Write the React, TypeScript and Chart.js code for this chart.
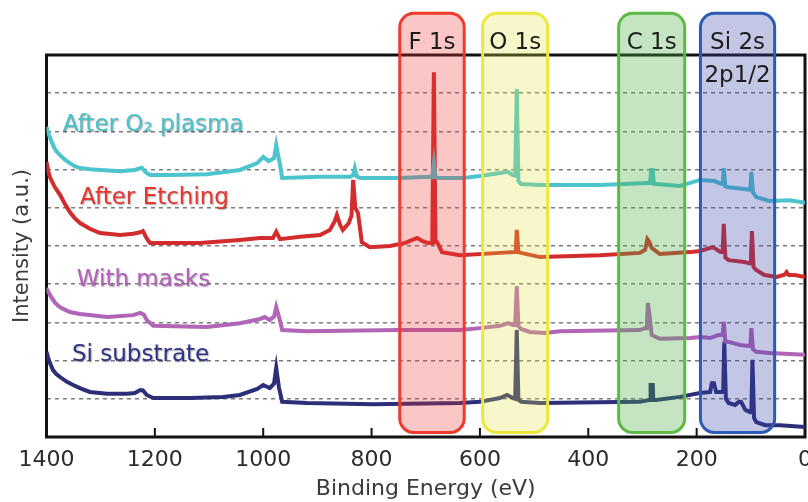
import React, { useEffect, useRef } from "react";
import { Chart, registerables } from "chart.js";
Chart.register(...registerables);

const FONT = "'DejaVu Sans', sans-serif";

// x-axis tick labels (Binding Energy, eV)
const xTickValues = [1400, 1200, 1000, 800, 600, 400, 200, 0];

// Series names / colours
const seriesNames = ["After O₂ plasma", "After Etching", "With masks", "Si substrate"];
const seriesColors = ["#4cc4cd", "#d22d2c", "#b264b6", "#2c2e78"];
const labelColors = ["#4ac2cb", "#e8352f", "#b45fb9", "#2d3382"];
const labelE = [1370, 1338, 1344, 1353];
const labelY = [8.17, 6.26, 4.11, 2.15];

// After O2 plasma
const plasmaE = [1400, 1397, 1394, 1389, 1385, 1380, 1375, 1366, 1357, 1348, 1338, 1320, 1301, 1264, 1237, 1224, 1216, 1209, 1172, 1104, 1043, 1011, 1000, 990, 980, 976, 970, 965, 895, 840, 834, 831, 827, 821, 748, 692, 688, 685, 682, 677, 631, 600, 563, 548, 540, 535, 532, 529, 524, 489, 379, 290, 286, 284, 281, 279, 275, 231, 194, 167, 154, 152, 150, 147, 141, 112, 103, 101, 99, 96, 90, 66, 28, 0];
const plasmaI = [8.12, 7.97, 7.85, 7.68, 7.55, 7.45, 7.38, 7.26, 7.17, 7.09, 7.04, 7.01, 6.99, 6.96, 6.99, 7.05, 6.92, 6.86, 6.86, 6.88, 6.99, 7.17, 7.33, 7.22, 7.30, 7.64, 7.2, 6.78, 6.81, 6.81, 6.85, 7.04, 6.82, 6.78, 6.78, 6.81, 6.80, 7.17, 6.80, 6.78, 6.78, 6.83, 6.91, 6.94, 6.86, 6.84, 9.11, 6.70, 6.62, 6.60, 6.60, 6.65, 6.65, 6.99, 6.99, 6.63, 6.62, 6.57, 6.73, 6.70, 6.62, 6.62, 7.04, 6.56, 6.54, 6.49, 6.47, 6.47, 6.94, 6.40, 6.28, 6.18, 6.20, 6.13];

// After Etching
const etchE = [1400, 1397, 1394, 1385, 1375, 1366, 1357, 1348, 1338, 1320, 1301, 1264, 1240, 1227, 1222, 1215, 1209, 1117, 1043, 1006, 982, 976, 969, 932, 895, 877, 868, 864, 858, 853, 842, 837, 834, 830, 825, 818, 803, 766, 738, 716, 705, 696, 688, 685, 682, 679, 670, 637, 563, 537, 534, 532, 529, 524, 489, 379, 305, 295, 291, 287, 283, 268, 212, 194, 170, 162, 156, 152, 150, 147, 141, 112, 103, 100, 98, 95, 90, 75, 52, 38, 34, 30, 19, 0];
const etchI = [7.20, 6.98, 6.81, 6.55, 6.34, 6.10, 5.89, 5.73, 5.60, 5.45, 5.34, 5.29, 5.32, 5.36, 5.39, 5.20, 5.08, 5.08, 5.16, 5.21, 5.21, 5.37, 5.18, 5.24, 5.29, 5.42, 5.65, 5.81, 5.55, 5.42, 5.60, 5.80, 6.73, 6.0, 5.86, 5.10, 4.97, 5.00, 5.08, 5.21, 5.12, 5.08, 5.08, 9.55, 5.10, 5.10, 4.84, 4.76, 4.82, 4.84, 4.84, 5.42, 4.84, 4.82, 4.71, 4.76, 4.82, 4.90, 5.18, 5.10, 4.95, 4.79, 4.84, 4.87, 4.97, 4.90, 4.84, 4.84, 5.58, 4.70, 4.63, 4.58, 4.55, 4.55, 5.39, 4.45, 4.37, 4.24, 4.19, 4.25, 4.32, 4.24, 4.24, 4.19];

// With masks
const maskE = [1400, 1396, 1392, 1384, 1377, 1370, 1357, 1338, 1288, 1240, 1227, 1220, 1215, 1203, 1104, 1043, 1006, 997, 988, 980, 976, 970, 965, 919, 748, 637, 600, 563, 548, 539, 535, 532, 529, 524, 508, 480, 452, 305, 295, 292, 290, 287, 283, 268, 212, 194, 175, 160, 152, 150, 147, 141, 120, 103, 101, 99, 96, 90, 66, 0];
const maskI = [3.90, 3.78, 3.68, 3.51, 3.42, 3.36, 3.27, 3.22, 3.14, 3.19, 3.25, 3.20, 3.06, 2.91, 2.88, 2.98, 3.09, 3.14, 3.06, 3.15, 3.40, 3.10, 2.80, 2.77, 2.80, 2.80, 2.85, 2.91, 2.98, 2.93, 2.93, 3.95, 2.90, 2.83, 2.75, 2.72, 2.77, 2.80, 2.85, 2.85, 3.51, 3.20, 2.67, 2.57, 2.59, 2.62, 2.59, 2.67, 2.67, 3.01, 2.50, 2.49, 2.41, 2.38, 2.38, 2.85, 2.30, 2.23, 2.20, 2.15];

// Si substrate
const siE = [1400, 1397, 1394, 1388, 1382, 1375, 1363, 1351, 1335, 1320, 1288, 1251, 1237, 1227, 1222, 1215, 1203, 1135, 1074, 1043, 1011, 1000, 988, 980, 976, 971, 965, 919, 797, 637, 600, 563, 550, 539, 535, 532, 529, 524, 489, 305, 288, 286, 285, 281, 280, 275, 231, 194, 175, 172, 168, 164, 153, 151, 149, 146, 141, 129, 122, 118, 110, 101, 99, 97, 94, 90, 73, 46, 0];
const siI = [2.23, 2.08, 1.95, 1.75, 1.65, 1.57, 1.45, 1.36, 1.26, 1.18, 1.13, 1.13, 1.15, 1.23, 1.22, 1.10, 1.02, 1.02, 1.05, 1.10, 1.26, 1.36, 1.28, 1.40, 1.81, 1.30, 0.92, 0.89, 0.86, 0.89, 0.92, 1.02, 1.10, 1.02, 1.00, 2.80, 0.98, 0.92, 0.89, 0.92, 0.97, 0.97, 1.36, 1.36, 0.97, 0.97, 1.05, 1.15, 1.18, 1.41, 1.41, 1.18, 1.18, 1.20, 2.49, 1.00, 0.89, 0.84, 0.92, 0.92, 0.71, 0.65, 0.65, 2.02, 0.50, 0.39, 0.31, 0.31, 0.26];

// Peak-region boxes
const boxNames = ["F 1s", "O 1s", "C 1s", "Si 2s"];
const boxSub = ["", "", "", "2p1/2"];
const boxFrom = [748, 595, 344, 193];
const boxTo = [629, 475, 222, 56];
const boxTop = 11.09;
const boxBottom = 0.12;
const boxLabelY = 10.31;
const boxSubY = 9.45;
const boxStroke = ["#ef3a2c", "#ece83c", "#5cba45", "#2b5bb5"];
const boxFill = ["rgba(238,50,50,0.28)", "rgba(226,226,60,0.28)", "rgba(80,175,70,0.33)", "rgba(58,65,172,0.3)"];

const seriesE = [plasmaE, etchE, maskE, siE];
const seriesI = [plasmaI, etchI, maskI, siI];

const decor = {
  id: "decor",
  beforeDatasetsDraw(chart: any) {
    const { ctx, chartArea: a, scales } = chart;
    const x = scales.x;
    ctx.save();
    ctx.strokeStyle = "#111";
    ctx.lineWidth = 2;
    xTickValues.forEach((v) => {
      if (v === 0 || v === 1400) return;
      const px = x.getPixelForValue(v);
      ctx.beginPath();
      ctx.moveTo(px, a.bottom);
      ctx.lineTo(px, a.bottom - 9);
      ctx.stroke();
    });
    ctx.lineWidth = 3;
    ctx.strokeRect(a.left, a.top, a.right - a.left, a.bottom - a.top);
    ctx.restore();
  },
  afterDatasetsDraw(chart: any) {
    const { ctx, scales } = chart;
    const x = scales.x;
    const y = scales.y;
    ctx.save();
    ctx.font = `23px ${FONT}`;
    ctx.textAlign = "left";
    ctx.textBaseline = "middle";
    ctx.shadowColor = "rgba(0,0,0,0.35)";
    ctx.shadowOffsetX = 1;
    ctx.shadowOffsetY = 1;
    ctx.shadowBlur = 1.5;
    seriesNames.forEach((n, i) => {
      ctx.fillStyle = labelColors[i];
      ctx.fillText(n, x.getPixelForValue(labelE[i]), y.getPixelForValue(labelY[i]));
    });
    ctx.shadowColor = "rgba(0,0,0,0)";
    boxNames.forEach((n, i) => {
      const l = x.getPixelForValue(boxFrom[i]);
      const r = x.getPixelForValue(boxTo[i]);
      const t = y.getPixelForValue(boxTop);
      const b = y.getPixelForValue(boxBottom);
      ctx.beginPath();
      (ctx as any).roundRect(l, t, r - l, b - t, 14);
      ctx.fillStyle = boxFill[i];
      ctx.fill();
      ctx.lineWidth = 3;
      ctx.strokeStyle = boxStroke[i];
      ctx.stroke();
    });
    ctx.font = `23px ${FONT}`;
    ctx.textAlign = "center";
    ctx.fillStyle = "#1c1c1c";
    boxNames.forEach((n, i) => {
      const cx = (x.getPixelForValue(boxFrom[i]) + x.getPixelForValue(boxTo[i])) / 2;
      ctx.fillText(n, cx, y.getPixelForValue(boxLabelY));
      if (boxSub[i]) ctx.fillText(boxSub[i], cx, y.getPixelForValue(boxSubY));
    });
    ctx.restore();
  },
};

export default function App() {
  const ref = useRef<HTMLCanvasElement>(null);
  useEffect(() => {
    const chart = new Chart(ref.current as HTMLCanvasElement, {
      type: "line",
      data: {
        datasets: seriesNames.map((n, i) => ({
          label: n,
          data: seriesE[i].map((e, j) => ({ x: e, y: seriesI[i][j] })),
          borderColor: seriesColors[i],
          borderWidth: 4,
          pointRadius: 0,
          fill: false,
          tension: 0,
        })),
      },
      options: {
        animation: false,
        responsive: false,
        devicePixelRatio: 1,
        layout: { padding: { top: 47, right: 33, left: 0, bottom: 0 } },
        plugins: { legend: { display: false }, tooltip: { enabled: false } },
        scales: {
          x: {
            type: "linear",
            reverse: true,
            min: 0,
            max: 1400,
            afterBuildTicks: (s: any) => {
              s.ticks = xTickValues.map((v) => ({ value: v }));
            },
            afterFit: (s: any) => {
              s.height = 65;
            },
            grid: { display: false, drawTicks: false, tickLength: 0 },
            border: { display: false },
            ticks: {
              font: { size: 22, family: FONT },
              color: "#2b2b2b",
              padding: 10,
              maxRotation: 0,
              autoSkip: false,
              callback: (v: any) => String(v),
            },
            title: {
              display: true,
              text: "Binding Energy (eV)",
              font: { size: 22, family: FONT },
              color: "#3a3a3a",
              padding: { top: 0, bottom: 0 },
            },
          },
          y: {
            min: 0,
            max: 10,
            afterFit: (s: any) => {
              s.width = 38.5;
            },
            ticks: { display: false, stepSize: 1 },
            grid: {
              color: (c: any) => (c.tick && (c.tick.value === 0 || c.tick.value === 10) ? "rgba(0,0,0,0)" : "#7a7a7a"),
              lineWidth: 1.5,
              drawTicks: false,
              tickLength: 0,
            },
            border: { display: false, dash: [4, 4] },
            title: {
              display: true,
              text: "Intensity (a.u.)",
              font: { size: 21, family: FONT },
              color: "#3a3a3a",
              padding: { top: 2, bottom: 0 },
            },
          },
        },
      } as any,
      plugins: [decor],
    });
    return () => chart.destroy();
  }, []);
  return (
    <div style={{ position: "fixed", left: 8, top: 8, width: 800, height: 494, overflow: "hidden" }}>
      <canvas ref={ref} width={830} height={494} style={{ width: 830, height: 494, display: "block" }} />
    </div>
  );
}
